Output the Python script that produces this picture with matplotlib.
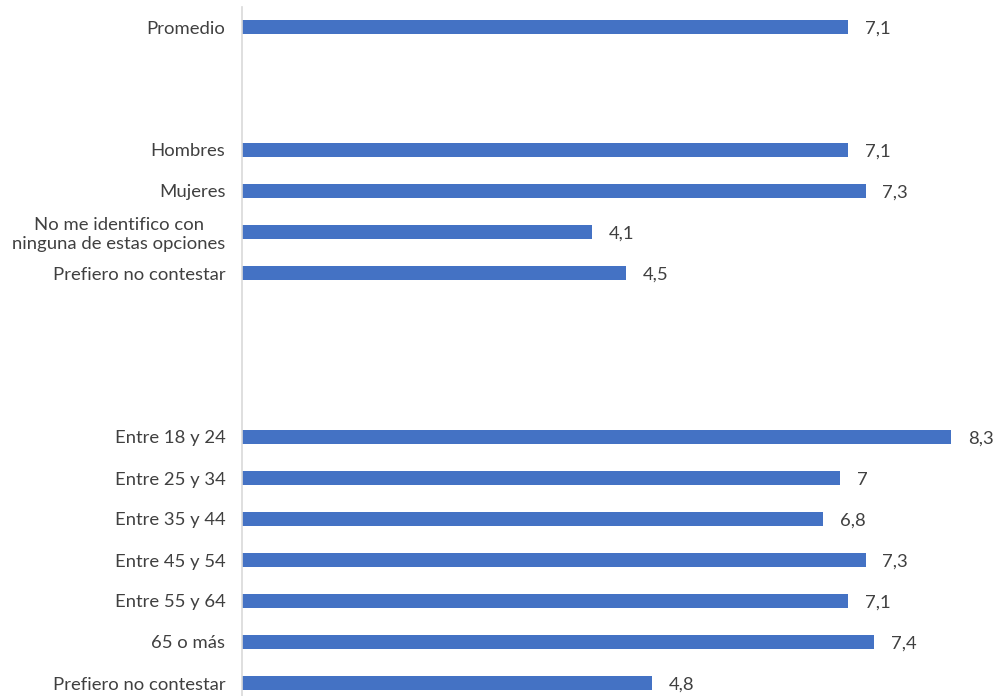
import matplotlib
matplotlib.use("Agg")
import matplotlib.pyplot as plt

categories = ["Promedio", "", "",
              "Hombres", "Mujeres", "No me identifico con\nninguna de estas opciones", "Prefiero no contestar",
              "", "", "",
              "Entre 18 y 24", "Entre 25 y 34", "Entre 35 y 44", "Entre 45 y 54",
              "Entre 55 y 64", "65 o más", "Prefiero no contestar"]
values = [7.1, None, None,
          7.1, 7.3, 4.1, 4.5,
          None, None, None,
          8.3, 7.0, 6.8, 7.3, 7.1, 7.4, 4.8]

plt.rcParams['font.family'] = ['Lato', 'DejaVu Sans']
W, H = 995, 696
fs = 13.3
fig = plt.figure(figsize=(W/100, H/100), dpi=100)
ax = fig.add_axes([242/W, 0, 709/W, 689/H])

bar_color = "#4472C4"
text_color = "#404040"
pos = list(range(len(categories)))
for i, v in zip(pos, values):
    if v is None:
        continue
    ax.barh(i, v, height=0.36, color=bar_color)
    lab = f"{v:.1f}".replace(".", ",")
    if lab.endswith(",0"):
        lab = lab[:-2]
    ax.annotate(lab, (v, i), xytext=(12, -1.5), textcoords="offset points",
                va="center", ha="left", fontsize=fs, color=text_color,
                annotation_clip=False)

ax.set_xlim(0, 8.3)
ax.set_ylim((H - 27) / 41, -20 / 41)
ax.set_yticks(pos)
ax.set_yticklabels(categories, fontsize=fs, color=text_color,
                   multialignment="center", linespacing=1.2)
ax.tick_params(axis="y", length=0, pad=12)
ax.set_xticks([])
for s in ["top", "right", "bottom"]:
    ax.spines[s].set_visible(False)
ax.spines["left"].set_color("#d9d9d9")
ax.spines["left"].set_linewidth(1.2)
ax.patch.set_alpha(0)

fig.savefig("out.png", dpi=100)
